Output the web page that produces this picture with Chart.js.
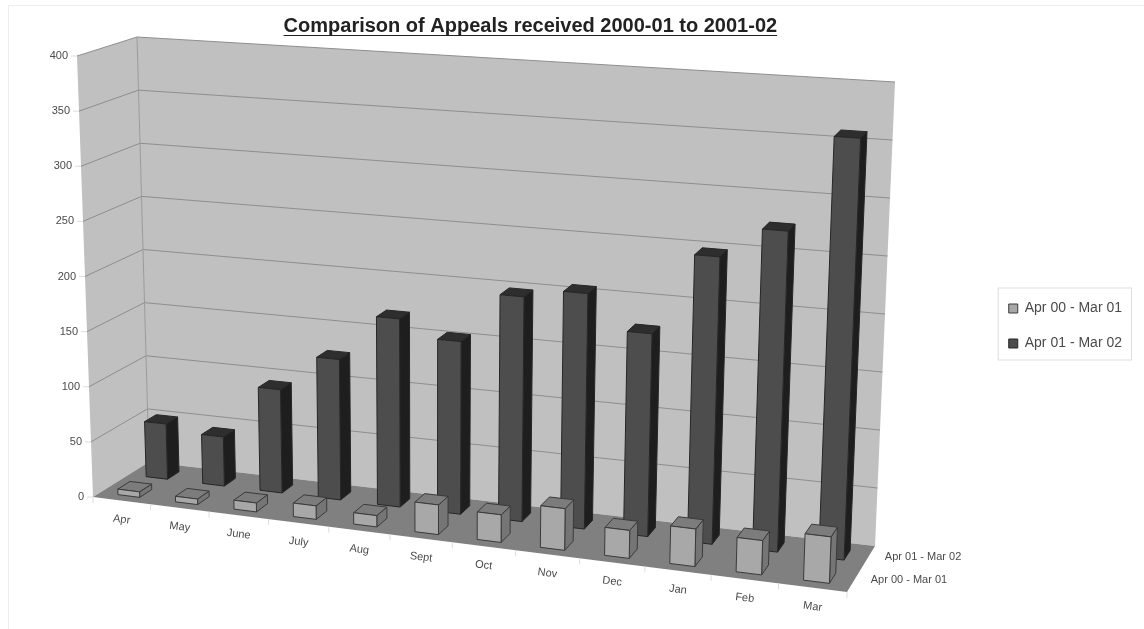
<!DOCTYPE html>
<html>
<head>
<meta charset="utf-8">
<title>Appeals received</title>
<script src="https://cdn.jsdelivr.net/npm/chart.js@4/dist/chart.umd.min.js"></script>
<style>
    body { margin: 0; background: #fff; }
    #wrap { position: relative; width: 1144px; height: 629px; overflow: hidden; }
    #wrap::before {
        content: ''; position: absolute; left: 8px; top: 5px; right: 0; bottom: 0;
        border-left: 1px solid #eee; border-top: 1px solid #eee;
    }
    canvas { position: absolute; left: 0; top: 0; }
</style>
</head>
<body>
<div id="wrap"><canvas id="appealsChart" width="1144" height="629"></canvas></div>
<script>
const months = ['Apr', 'May', 'June', 'July', 'Aug', 'Sept', 'Oct', 'Nov', 'Dec', 'Jan', 'Feb', 'Mar'];
const appeals2000 = [5, 5, 8, 12, 10, 26, 24, 36, 24, 32, 29, 39];
const appeals2001 = [51, 45, 94, 127, 169, 154, 199, 207, 177, 249, 276, 360];
const seriesNames = ['Apr 00 - Mar 01', 'Apr 01 - Mar 02'];
const chartTitle = 'Comparison of Appeals received 2000-01 to 2001-02';

// box corners on screen: f/b = front/back, l/r = left/right, suffix T = top of the value axis
const box = {
    fl: [93, 497], fr: [847, 592], bl: [149, 462], br: [875, 546],
    flT: [77, 56], frT: [865, 112], blT: [137, 37], brT: [895, 82]
};

// months get wider towards the right of the box, below 1 = stronger foreshortening on the left
const FORESHORTEN = 0.91;

// depth range of each row on the floor, 0 = front edge, 1 = back wall
const rowDepth = [[0.13, 0.35], [0.64, 0.85]];
const faceColors = [
    { top: '#7c7c7c', side: '#757575' },
    { top: '#2e2e2e', side: '#1e1e1e' }
];

const WALL = '#c0c0c0';
const FLOOR = '#808080';
const GRID = '#8e8e8e';
const TEXT = '#4a4a4a';
const FONT = '"Liberation Sans", Arial, sans-serif';

function lerp(a, b, t) {
    return [a[0] + (b[0] - a[0]) * t, a[1] + (b[1] - a[1]) * t];
}

// u along the months, v into the depth, w up the value axis (all 0..1)
function project(u, v, w) {
    const s = FORESHORTEN * u / (1 + (FORESHORTEN - 1) * u);
    const low = lerp(lerp(box.fl, box.fr, s), lerp(box.bl, box.br, s), v);
    const high = lerp(lerp(box.flT, box.frT, s), lerp(box.blT, box.brT, s), v);
    return lerp(low, high, w);
}

function fillPoly(ctx, pts, fill, stroke) {
    ctx.beginPath();
    pts.forEach((p, i) => i ? ctx.lineTo(p[0], p[1]) : ctx.moveTo(p[0], p[1]));
    ctx.closePath();
    if (fill) {
        ctx.fillStyle = fill;
        ctx.fill();
    }
    if (stroke) {
        ctx.strokeStyle = stroke;
        ctx.lineWidth = 1;
        ctx.stroke();
    }
}

function strokeLine(ctx, a, b, color) {
    ctx.beginPath();
    ctx.moveTo(a[0], a[1]);
    ctx.lineTo(b[0], b[1]);
    ctx.strokeStyle = color;
    ctx.lineWidth = 1;
    ctx.stroke();
}

function drawBox(chart) {
    const ctx = chart.ctx;
    const yScale = chart.scales.y;
    const xScale = chart.scales.x;
    const frac = v => (yScale.bottom - yScale.getPixelForValue(v)) / yScale.height;

    ctx.save();
    fillPoly(ctx, [box.fl, box.bl, box.blT, box.flT], WALL);
    fillPoly(ctx, [box.bl, box.br, box.brT, box.blT], WALL);
    fillPoly(ctx, [box.fl, box.fr, box.br, box.bl], FLOOR);

    // value gridlines run along the side wall and the back wall
    ctx.font = '11px ' + FONT;
    ctx.fillStyle = TEXT;
    ctx.textAlign = 'right';
    ctx.textBaseline = 'middle';
    yScale.ticks.forEach(t => {
        const w = frac(t.value);
        const front = project(0, 0, w);
        if (t.value > 0) {
            strokeLine(ctx, front, project(0, 1, w), GRID);
            strokeLine(ctx, project(0, 1, w), project(1, 1, w), GRID);
        }
        strokeLine(ctx, front, [front[0] - 6, front[1]], '#dddddd');
        ctx.fillStyle = TEXT;
        ctx.fillText(String(t.value), front[0] - 9, front[1]);
    });
    strokeLine(ctx, box.bl, box.blT, '#999999');

    // month ticks and slanted month names under the front edge
    const slant = Math.atan2(box.fr[1] - box.fl[1], box.fr[0] - box.fl[0]);
    months.forEach((name, i) => {
        const edge = project(i / months.length, 0, 0);
        strokeLine(ctx, edge, [edge[0], edge[1] + 6], '#dddddd');
        const mid = project((xScale.getPixelForValue(i) - xScale.left) / xScale.width, 0, 0);
        ctx.save();
        ctx.translate(mid[0], mid[1] + 19);
        ctx.rotate(slant);
        ctx.textAlign = 'center';
        ctx.fillStyle = TEXT;
        ctx.fillText(name, 0, 0);
        ctx.restore();
    });
    strokeLine(ctx, box.fr, [box.fr[0], box.fr[1] + 6], '#dddddd');

    // series names beside the right floor edge
    ctx.textAlign = 'left';
    ctx.fillStyle = TEXT;
    seriesNames.forEach((name, i) => {
        const p = project(1, (rowDepth[i][0] + rowDepth[i][1]) / 2, 0);
        ctx.fillText(name, p[0] + 17, p[1] - 1);
    });
    ctx.restore();
}

function drawBars3d(chart, meta, index) {
    const ctx = chart.ctx;
    const xScale = chart.scales.x;
    const yScale = chart.scales.y;
    const ds = chart.data.datasets[index];
    const [v0, v1] = rowDepth[index];

    ctx.save();
    meta.data.forEach(bar => {
        const u0 = (bar.x - bar.width / 2 - xScale.left) / xScale.width;
        const u1 = (bar.x + bar.width / 2 - xScale.left) / xScale.width;
        const w = (yScale.bottom - bar.y) / yScale.height;
        const a = project(u0, v0, 0), b = project(u1, v0, 0);
        const c = project(u1, v0, w), d = project(u0, v0, w);
        const e = project(u1, v1, 0), f = project(u1, v1, w), g = project(u0, v1, w);
        fillPoly(ctx, [b, e, f, c], faceColors[index].side, ds.borderColor);
        fillPoly(ctx, [d, c, f, g], faceColors[index].top, ds.borderColor);
        fillPoly(ctx, [a, b, c, d], ds.backgroundColor, ds.borderColor);
    });
    ctx.restore();
}

const perspectivePlugin = {
    id: 'perspective',
    beforeDatasetsDraw(chart) {
        drawBox(chart);
    },
    beforeDatasetDraw(chart, args) {
        drawBars3d(chart, args.meta, args.index);
        return false;
    },
    afterDraw(chart) {
        const ctx = chart.ctx;
        // legend frame
        const boxes = chart.legend.legendHitBoxes;
        const left = Math.min(...boxes.map(b => b.left));
        const right = Math.max(...boxes.map(b => b.left + b.width));
        const top = boxes[0].top;
        const bottom = boxes[boxes.length - 1].top + boxes[boxes.length - 1].height;
        ctx.save();
        ctx.strokeStyle = '#dddddd';
        ctx.lineWidth = 1;
        ctx.strokeRect(left - 10.5, top - 13.5, right - left + 20, bottom - top + 23);

        // title underline
        const tb = chart.titleBlock;
        ctx.font = tb.options.font.weight + ' ' + tb.options.font.size + 'px ' + FONT;
        const tw = ctx.measureText(chartTitle).width;
        const cx = (tb.left + tb.right) / 2;
        strokeLine(ctx, [cx - tw / 2, 35.5], [cx + tw / 2, 35.5], '#222222');
        ctx.restore();
    }
};

new Chart(document.getElementById('appealsChart'), {
    type: 'bar',
    data: {
        labels: months,
        datasets: [
            { label: seriesNames[0], data: appeals2000, backgroundColor: '#a8a8a8', borderColor: '#3a3a3a', borderWidth: 1 },
            { label: seriesNames[1], data: appeals2001, backgroundColor: '#4d4d4d', borderColor: '#262626', borderWidth: 1 }
        ]
    },
    options: {
        responsive: false,
        animation: false,
        layout: { padding: { left: 73, right: 12, top: 14, bottom: -9 } },
        datasets: { bar: { categoryPercentage: 1, barPercentage: 0.38 } },
        scales: {
            x: { display: false, stacked: true },
            y: { display: false, min: 0, max: 400, ticks: { stepSize: 50 } }
        },
        plugins: {
            title: {
                display: true,
                text: chartTitle,
                fullSize: false,
                color: '#222222',
                padding: { top: 0, bottom: 4 },
                font: { family: FONT, size: 20, weight: 'bold' }
            },
            legend: {
                position: 'right',
                labels: {
                    color: TEXT,
                    boxWidth: 9,
                    boxHeight: 9,
                    padding: 21,
                    font: { family: FONT, size: 14 }
                }
            },
            tooltip: { enabled: false }
        }
    },
    plugins: [perspectivePlugin]
});
</script>
</body>
</html>
